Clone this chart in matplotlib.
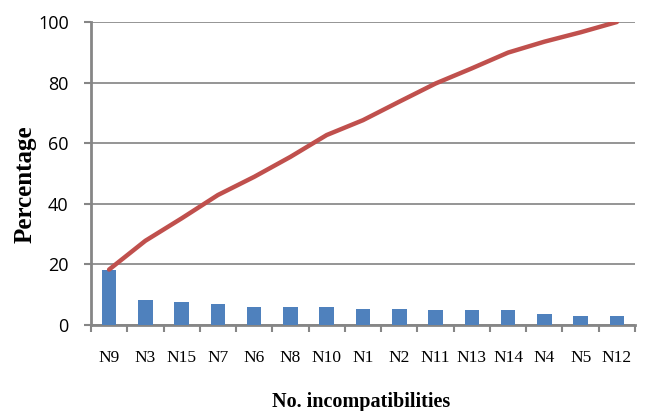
import numpy as np
import matplotlib
matplotlib.use("Agg")
import matplotlib.pyplot as plt

# values
categories = ["N9", "N3", "N15", "N7", "N6", "N8", "N10", "N1",
              "N2", "N11", "N13", "N14", "N4", "N5", "N12"]
share = [18.2, 8.3, 7.6, 6.9, 6.0, 6.0, 6.0, 5.3,
         5.3, 5.0, 5.0, 5.0, 3.6, 3.0, 3.0]
cumulative = [18.3, 27.8, 35.2, 42.9, 48.9, 55.5, 62.7, 67.6,
              73.7, 79.7, 84.7, 89.9, 93.5, 96.6, 100.0]
y_ticks = [0, 20, 40, 60, 80, 100]

bar_color = "#4f81bd"
line_color = "#c0504d"
axis_gray = "#868686"

fig = plt.figure(figsize=(6.47, 4.11), dpi=100)
ax = fig.add_axes([0.1406, 0.2092, 0.8409, 0.7373])

x = np.arange(len(categories))
ax.bar(x, share, width=0.4, color=bar_color, zorder=3)
ax.plot(x, cumulative, color=line_color, linewidth=3.2, solid_capstyle="round", zorder=4)

ax.set_xlim(-0.5, len(categories) - 0.5)
ax.set_ylim(0, 100)
ax.set_yticks(y_ticks)
ax.grid(axis="y", color="#8c8c8c", linewidth=1.3, zorder=0)

# category labels centred, tick marks at category boundaries
ax.set_xticks(x)
ax.set_xticklabels(categories, family="Liberation Serif", fontsize=12.5)
ax.set_xticks(np.arange(-0.5, len(categories)), minor=True)
ax.tick_params(axis="x", which="major", length=0, pad=18)
ax.tick_params(axis="x", which="minor", length=5, width=1.5, color=axis_gray, direction="out")
ax.tick_params(axis="y", length=5, width=1.5, color=axis_gray, pad=11)
for lbl in ax.get_yticklabels():
    lbl.set_family("Open Sans")
    lbl.set_fontsize(13)

for side in ["top", "right"]:
    ax.spines[side].set_visible(False)
for side in ["left", "bottom"]:
    ax.spines[side].set_color(axis_gray)
    ax.spines[side].set_linewidth(2)

ax.set_ylabel("Percentage", family="Liberation Serif", fontweight="bold", fontsize=18)
ax.yaxis.set_label_coords(-0.10, 0.465)
ax.set_xlabel("No. incompatibilities", family="Liberation Serif", fontweight="bold", fontsize=14.5)
ax.xaxis.set_label_coords(0.497, -0.222)

plt.savefig("out.png", dpi=100)
